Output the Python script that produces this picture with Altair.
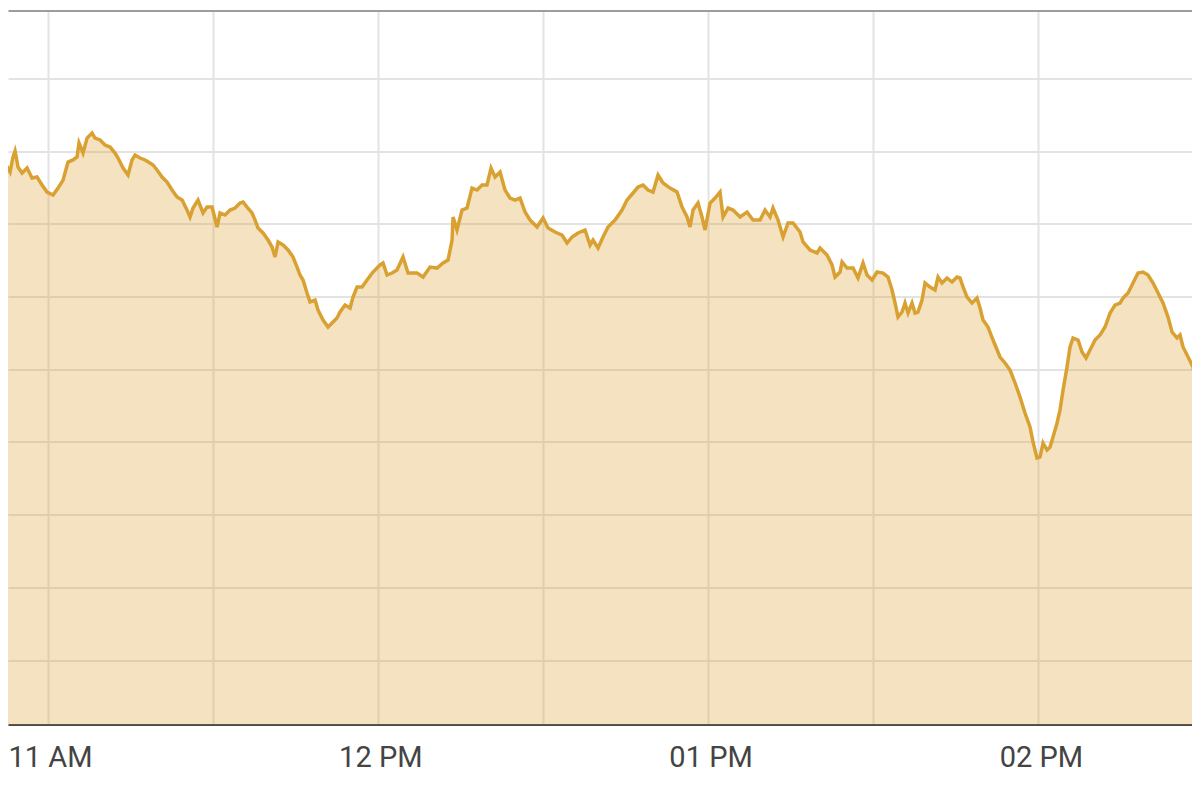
import altair as alt
import pandas as pd

# Minutes after 10:00 AM and the matching price level
minutes_after_10am = [
    51.37, 52.28, 53.19, 53.73, 54.10, 54.64, 55.37, 56.28, 57.18, 58.09,
    59.00, 59.91, 61.00, 61.91, 62.82, 63.72, 64.63, 65.36, 65.72, 66.45,
    67.18, 68.09, 68.63, 69.54, 70.45, 71.35, 72.26, 72.81, 73.72, 74.62,
    75.35, 75.90, 76.80, 77.71, 78.62, 79.17, 79.89, 80.80, 81.71, 82.62,
    83.53, 84.44, 85.34, 85.89, 86.43, 87.34, 88.25, 88.98, 89.89, 90.79,
    91.34, 92.25, 93.16, 94.06, 94.97, 95.52, 96.24, 97.15, 97.70, 98.24,
    99.15, 100.06, 100.79, 101.33, 101.88, 102.78, 103.69, 104.60, 105.33, 105.87,
    106.42, 107.14, 107.69, 108.60, 109.14, 110.05, 110.96, 111.69, 112.59, 113.14,
    114.05, 114.96, 115.50, 116.23, 117.14, 118.04, 119.13, 120.41, 120.95, 121.68,
    122.59, 123.49, 124.58, 125.49, 127.13, 128.22, 129.49, 130.76, 131.85, 132.76,
    133.49, 133.67, 134.39, 135.30, 136.21, 137.12, 138.03, 138.94, 139.84, 140.57,
    141.30, 142.21, 143.11, 144.02, 144.93, 145.84, 146.75, 147.66, 148.93, 150.02,
    150.93, 152.20, 153.47, 154.38, 155.29, 156.38, 157.65, 158.56, 159.10, 160.01,
    160.92, 161.83, 163.10, 164.37, 165.28, 166.37, 167.28, 168.19, 169.09, 170.00,
    170.91, 171.82, 173.09, 174.36, 175.27, 176.18, 176.72, 177.27, 178.18, 178.90,
    179.45, 180.36, 181.27, 182.17, 182.72, 183.63, 184.54, 185.81, 187.08, 188.17,
    189.44, 190.35, 191.26, 191.80, 192.71, 193.62, 194.53, 195.44, 196.71, 197.25,
    198.52, 199.80, 200.34, 201.61, 202.52, 203.07, 203.97, 204.34, 205.25, 206.34,
    207.24, 208.15, 208.88, 209.79, 210.70, 211.79, 212.69, 213.42, 213.97, 214.51,
    215.24, 215.78, 216.33, 217.05, 217.60, 218.14, 218.87, 219.42, 220.32, 221.23,
    221.78, 222.50, 223.41, 224.32, 225.23, 225.77, 226.32, 227.05, 227.95, 228.86,
    229.41, 229.95, 230.86, 231.77, 233.04, 233.95, 234.86, 235.77, 236.67, 237.58,
    238.49, 239.04, 239.76, 240.31, 240.85, 241.58, 242.13, 242.67, 243.40, 243.94,
    244.49, 245.21, 245.76, 246.30, 247.21, 247.94, 248.67, 249.39, 250.30, 251.21,
    252.12, 253.03, 253.93, 254.84, 255.39, 256.30, 257.20, 258.11, 259.02, 259.93,
    260.84, 261.75, 262.65, 263.56, 264.29, 265.20, 265.74, 266.29, 267.20, 268.10,
    269.01, 269.38,
]

price = [
    77.39, 78.35, 77.11, 79.18, 80.00, 77.80, 76.98, 77.66, 76.29, 76.43,
    75.33, 74.36, 73.95, 74.91, 76.01, 78.49, 78.77, 79.18, 81.10, 79.73,
    81.79, 82.48, 81.79, 81.52, 80.83, 80.55, 79.73, 79.04, 77.66, 76.70,
    78.77, 79.45, 79.04, 78.77, 78.35, 78.08, 77.39, 76.43, 75.74, 74.64,
    73.68, 73.26, 71.89, 70.93, 72.16, 73.26, 71.48, 72.30, 72.30, 69.55,
    71.48, 71.20, 71.89, 72.16, 72.85, 72.99, 72.30, 71.48, 70.51, 69.41,
    68.73, 67.76, 66.80, 65.43, 67.49, 67.08, 66.39, 65.43, 64.05, 62.95,
    62.26, 60.47, 59.24, 59.51, 58.14, 56.76, 55.80, 56.35, 57.04, 57.86,
    58.82, 58.41, 59.92, 61.30, 61.30, 62.26, 63.36, 64.33, 64.60, 62.95,
    63.22, 63.64, 65.43, 63.22, 63.22, 62.67, 64.05, 63.91, 64.60, 65.01,
    67.76, 70.93, 69.14, 71.89, 72.16, 74.91, 74.64, 75.33, 75.33, 77.66,
    76.43, 77.11, 74.64, 73.54, 73.26, 73.54, 71.61, 70.51, 69.55, 70.79,
    69.41, 68.86, 68.45, 67.35, 68.18, 68.73, 69.14, 67.08, 67.76, 66.66,
    68.18, 69.55, 70.51, 71.89, 73.26, 74.23, 75.05, 75.33, 74.64, 74.36,
    76.70, 75.60, 74.91, 74.36, 72.30, 70.93, 69.55, 71.89, 72.85, 70.93,
    69.14, 72.85, 73.54, 74.36, 70.93, 72.16, 71.89, 70.93, 71.61, 70.51,
    70.51, 71.89, 70.93, 72.16, 70.51, 68.18, 70.10, 70.10, 68.86, 67.49,
    66.39, 65.98, 66.66, 65.70, 64.33, 62.67, 63.36, 64.74, 63.91, 63.91,
    62.54, 64.60, 62.95, 62.26, 63.36, 63.22, 62.67, 60.89, 59.10, 57.17,
    57.86, 59.10, 57.72, 59.10, 57.72, 57.86, 59.51, 61.85, 61.30, 60.89,
    62.67, 61.85, 62.54, 61.99, 62.67, 62.54, 61.30, 59.92, 59.10, 59.79,
    58.41, 56.76, 55.80, 54.01, 51.67, 50.85, 49.88, 48.10, 46.17, 43.97,
    42.05, 39.98, 37.78, 37.92, 39.84, 38.88, 39.29, 40.67, 42.60, 44.38,
    47.13, 50.30, 53.05, 54.29, 54.01, 52.36, 51.53, 52.63, 54.01, 54.70,
    55.80, 57.72, 58.82, 59.10, 59.79, 60.47, 61.85, 63.22, 63.36, 62.95,
    61.85, 60.47, 59.10, 57.17, 55.11, 54.29, 54.70, 53.05, 51.67, 50.30,
    46.72, 46.17,
]

# Axis settings (tick labels / gridlines)
time_ticks = [(11, 0), (11, 30), (12, 0), (12, 30), (13, 0), (13, 30), (14, 0)]
price_grid = [10, 20, 30, 40, 50, 60, 70, 80, 90, 99.33]
price_domain = [1.13, 99.33]
time_domain = [(10, 52, 49), (14, 27, 55)]

GOLD = "#D9A032"
DAY = dict(year=2024, month=5, date=15)

base = pd.Timestamp("2024-05-15 10:00:00")
df = pd.DataFrame({
    "time": base + pd.to_timedelta(minutes_after_10am, unit="m"),
    "price": price,
})

x_enc = alt.X(
    "time:T",
    scale=alt.Scale(domain=[alt.DateTime(hours=h, minutes=m, seconds=s, **DAY)
                            for h, m, s in time_domain]),
    axis=alt.Axis(
        values=[alt.DateTime(hours=h, minutes=m, **DAY) for h, m in time_ticks],
        labelExpr="minutes(datum.value) == 0 ? timeFormat(datum.value, '%I %p') : ''",
        title=None,
        grid=True,
        gridColor="#e3e3e3",
        gridWidth=2,
        domain=True,
        domainColor="#4a4a4a",
        domainWidth=2,
        ticks=False,
        tickSize=0,
        labelPadding=19,
        labelOffset=2.5,
        labelFont="Roboto",
        labelFontSize=29,
        labelColor="#444444",
        labelFlush=False,
        labelOverlap=False,
    ),
)

y_enc = alt.Y(
    "price:Q",
    scale=alt.Scale(domain=price_domain, nice=False, zero=False),
    axis=alt.Axis(
        values=price_grid,
        title=None,
        grid=True,
        gridColor={"condition": {"test": "datum.value > 95", "value": "#9c9c9c"},
                   "value": "#e3e3e3"},
        gridWidth=2,
        labels=False,
        ticks=False,
        domain=False,
    ),
)

area = alt.Chart(df).mark_area(color=GOLD, opacity=0.3, clip=True).encode(x=x_enc, y=y_enc)
line = alt.Chart(df).mark_line(color=GOLD, strokeWidth=3.5, clip=True).encode(x=x_enc, y=y_enc)

chart = (
    alt.layer(area, line)
    .properties(
        width=1184,
        height=714,
        autosize=alt.AutoSizeParams(type="none"),
        padding={"left": 0, "right": 0, "top": 2.5, "bottom": 60},
        background="white",
    )
    .configure_view(stroke=None)
)

chart.save("out.html", embed_options={"renderer": "svg", "actions": False})
